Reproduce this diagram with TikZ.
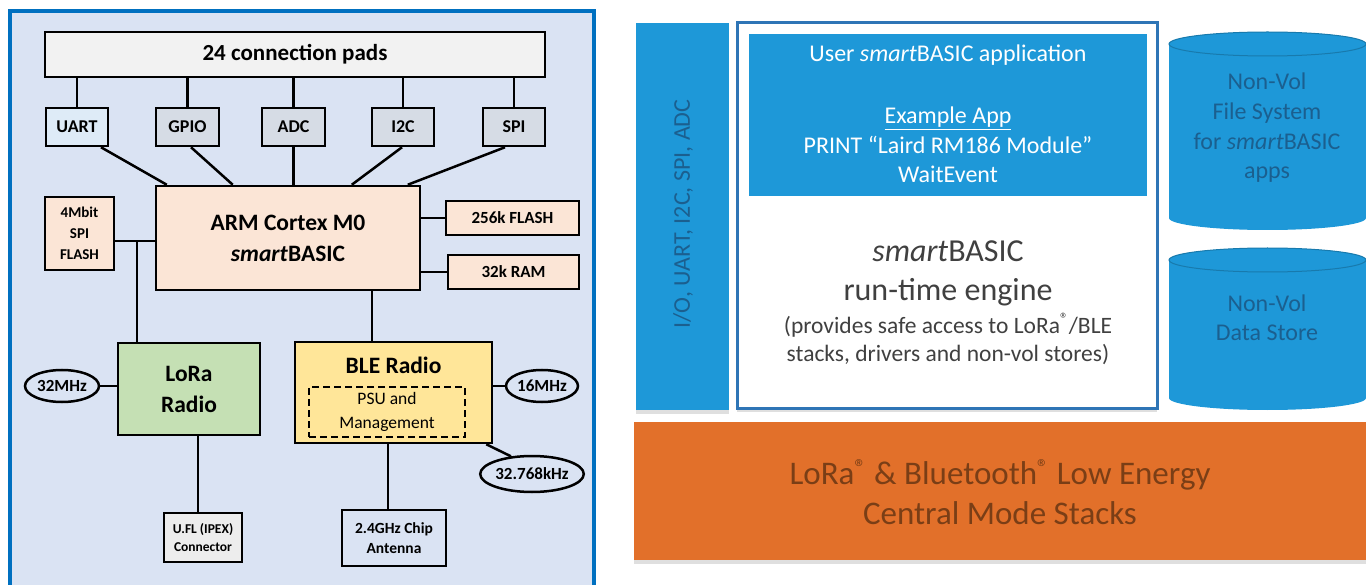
\documentclass[tikz,border=0pt]{standalone}
\usepackage{fontspec}
\setmainfont{Carlito}
\usetikzlibrary{shapes.geometric,shadows,calc}
\definecolor{panelbg}{HTML}{DAE3F3}
\definecolor{panelline}{HTML}{0070C0}
\definecolor{padfill}{HTML}{F2F2F2}
\definecolor{uartfill}{HTML}{DEEBF7}
\definecolor{busfill}{HTML}{D6DCE5}
\definecolor{armfill}{HTML}{FBE5D6}
\definecolor{lorafill}{HTML}{C5E0B4}
\definecolor{blefill}{HTML}{FFE699}
\definecolor{uflfill}{HTML}{EDEDED}
\definecolor{swblue}{HTML}{1E98D8}
\definecolor{frameblue}{HTML}{2E75B6}
\definecolor{stackorange}{HTML}{E2702A}
\definecolor{mutedblue}{HTML}{1B5F8F}
\definecolor{mutedbrown}{HTML}{7A3E16}
\definecolor{enginetext}{HTML}{404040}
\newcommand{\setfs}[2]{\fontsize{#1}{#2}\selectfont}
\newcommand{\regmark}{\textsuperscript{®}}
\tikzset{
  lbox/.style={draw=black, line width=2.5pt, inner sep=0pt, align=center, font=\bfseries\setfs{18}{21}},
  osc/.style={draw=black, line width=2.5pt, ellipse, inner sep=0pt, fill=panelbg, font=\bfseries\setfs{17}{20}},
  wire/.style={draw=black, line width=2.5pt},
  rbox/.style={inner sep=0pt},
  rshadow/.style={drop shadow={opacity=0.25, shadow xshift=0pt, shadow yshift=-4pt}},
  rtext/.style={align=center, inner sep=0pt}
}
\begin{document}
\begin{tikzpicture}[x=1pt, y=-1pt]
\useasboundingbox (0,0) rectangle (1366,585);
\fill[white] (0,0) rectangle (1366,585);
% ---------------- left panel ----------------
\draw[panelline, fill=panelbg, line width=3.5pt] (10,11) rectangle (594,595);

\node[lbox, fill=padfill, minimum width=500pt, minimum height=45pt, font=\bfseries\setfs{23}{27}] (pads) at (295,54.5) {24 connection pads};
\node[lbox, fill=uartfill, minimum width=62pt, minimum height=38pt] (uart) at (77,127) {UART};
\node[lbox, fill=busfill, minimum width=63pt, minimum height=38pt] (gpio) at (187.5,127) {GPIO};
\node[lbox, fill=busfill, minimum width=63pt, minimum height=38pt] (adc) at (293.5,127) {ADC};
\node[lbox, fill=busfill, minimum width=62pt, minimum height=38pt] (i2c) at (403,127) {I2C};
\node[lbox, fill=busfill, minimum width=62pt, minimum height=38pt] (spi) at (514,127) {SPI};

\node[lbox, fill=armfill, minimum width=264pt, minimum height=104pt, font=\bfseries\setfs{23.5}{31}] (arm) at (288,238) {ARM Cortex M0\\\textit{smart}BASIC};
\node[lbox, fill=armfill, minimum width=69pt, minimum height=73pt, font=\bfseries\setfs{15}{21}] (flash4) at (79.5,233.5) {4Mbit\\SPI\\FLASH};
\node[lbox, fill=armfill, minimum width=133pt, minimum height=34pt, font=\bfseries\setfs{17}{20}] (f256) at (512.5,218) {256k FLASH};
\node[lbox, fill=armfill, minimum width=131pt, minimum height=34pt, font=\bfseries\setfs{17}{20}] (ram) at (513.5,272) {32k RAM};

\node[lbox, fill=lorafill, minimum width=142pt, minimum height=92pt, font=\bfseries\setfs{23.5}{31}] (lora) at (189,389) {LoRa\\Radio};
\node[lbox, fill=blefill, minimum width=197pt, minimum height=101pt] (ble) at (393.5,392.5) {};
\node[inner sep=0pt, font=\bfseries\setfs{23.5}{28}] (bletitle) at (393.5,365) {BLE Radio};
\node[draw=black, line width=2pt, dash pattern=on 7pt off 4pt, minimum width=156pt, minimum height=50pt, inner sep=0pt, align=center, font=\setfs{17.5}{24}] (psu) at (387,412) {PSU and\\Management};

\node[osc, minimum width=74pt, minimum height=32pt] (m32) at (62,386) {32MHz};
\node[osc, minimum width=72pt, minimum height=32pt] (m16) at (542,386) {16MHz};
\node[osc, minimum width=96pt, minimum height=36pt] (khz) at (532,474) {32.768kHz};

\node[lbox, fill=uflfill, minimum width=78pt, minimum height=49pt, font=\bfseries\setfs{13.5}{18}] (ufl) at (203,537.5) {U.FL (IPEX)\\Connector};
\node[lbox, fill=panelbg, minimum width=104pt, minimum height=56pt, font=\bfseries\setfs{15.5}{20}] (ant) at (394,538) {2.4GHz Chip\\Antenna};

% connectors
\foreach \n in {uart,gpio,adc,i2c,spi} {\draw[wire] (\n.north) -- (\n.north |- pads.south);}
\draw[wire] ($(uart.south)+(24,0)$) -- ($(arm.north west)+(12,0)$);
\draw[wire] ($(gpio.south)+(3.5,0)$) -- ($(arm.north west)+(78,0)$);
\draw[wire] (adc.south) -- (adc.south |- arm.north);
\draw[wire] ($(i2c.south)+(-1,0)$) -- ($(arm.north west)+(197,0)$);
\draw[wire] ($(spi.south)+(-9,0)$) -- ($(arm.north west)+(253,0)$);
\coordinate (j1) at (137,241);
\draw[wire] (flash4.east |- j1) -- (arm.west |- j1);
\draw[wire] (j1) -- (j1 |- lora.north);
\draw[wire] (arm.east |- f256) -- (f256.west);
\draw[wire] (arm.east |- ram) -- (ram.west);
\coordinate (jb) at (372,0);
\draw[wire] (arm.south -| jb) -- (ble.north -| jb);
\draw[wire] (m32.east) -- (m32.east -| lora.west);
\draw[wire] (m16.west -| ble.east) -- (m16.west);
\draw[wire] ($(ble.south east)+(-7,0)$) -- (khz.140);
\coordinate (jl) at (198,0);
\draw[wire] (lora.south -| jl) -- (ufl.north -| jl);
\coordinate (ja) at (388,0);
\draw[wire] (ble.south -| ja) -- (ant.north -| ja);

% ---------------- right panel ----------------
\node[rbox, rshadow, fill=swblue, minimum width=93pt, minimum height=387pt] (io) at (682.5,216.5) {};
\node[rtext, rotate=90, text=mutedblue, font=\setfs{24}{28}] (iotext) at (683,214) {I/O, UART, I2C, SPI, ADC};

\node[rbox, rshadow, fill=white, draw=frameblue, line width=3pt, minimum width=420pt, minimum height=385pt] (engine) at (947,215.5) {};
\node[rbox, fill=swblue, minimum width=398pt, minimum height=162pt] (app) at (948,115) {};
\node[rtext, text=white, font=\setfs{24}{29}] (usertext) at (948,55) {User \textit{smart}BASIC application};
\node[rtext, text=white, font=\setfs{24}{29.5}] (exampletext) at (948,145) {\underline{Example App}\\PRINT “Laird RM186 Module”\\WaitEvent};
\node[rtext, text=enginetext, font=\setfs{32}{39}] (enginetitle) at (948,273) {\textit{smart}BASIC\\run-time engine};
\node[rtext, text=enginetext, font=\setfs{23.5}{28}] (enginesub) at (948,339) {(provides safe access to LoRa\regmark/BLE\\stacks, drivers and non-vol stores)};

% cylinders
\fill[swblue] (1169,44) rectangle (1366,218);
\node[ellipse, fill=swblue, minimum width=197pt, minimum height=24pt, inner sep=0pt] (cyl1b) at (1267.5,218) {};
\node[ellipse, fill=swblue, draw=swblue!80!black, line width=1pt, minimum width=197pt, minimum height=24pt, inner sep=0pt] (cyl1) at (1267.5,44) {};
\node[rtext, text=mutedblue, font=\setfs{24}{29.7}] (cyl1text) at (1267,128) {Non-Vol\\File System\\for \textit{smart}BASIC\\apps};

\fill[swblue] (1169,260) rectangle (1366,398);
\node[ellipse, fill=swblue, minimum width=197pt, minimum height=24pt, inner sep=0pt] (cyl2b) at (1267.5,398) {};
\node[ellipse, fill=swblue, draw=swblue!80!black, line width=1pt, minimum width=197pt, minimum height=24pt, inner sep=0pt] (cyl2) at (1267.5,260) {};
\node[rtext, text=mutedblue, font=\setfs{24}{29}] (cyl2text) at (1267,318) {Non-Vol\\Data Store};

% stacks
\node[rbox, rshadow, fill=stackorange, minimum width=732pt, minimum height=138pt] (stacks) at (1000,491) {};
\node[rtext, text=mutedbrown, font=\setfs{33}{40}] (stackstext) at (1000,492) {LoRa\regmark{} \& Bluetooth\regmark{} Low Energy\\Central Mode Stacks};
\end{tikzpicture}
\end{document}
